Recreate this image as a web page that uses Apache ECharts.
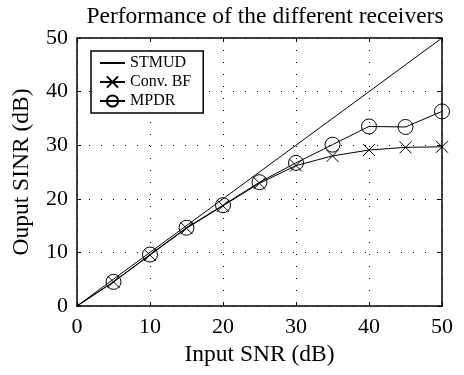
<!DOCTYPE html>
<html>
<head>
<meta charset="utf-8">
<script src="https://cdn.jsdelivr.net/npm/echarts@6/dist/echarts.min.js"></script>
<style>html,body{margin:0;padding:0;background:#fff}#c{width:464px;height:375px}</style>
</head>
<body>
<div id="c"></div>
<script>
var titleText = 'Performance of the different receivers';
var xName = 'Input SNR (dB)';
var yName = 'Ouput SINR (dB)';
var snr = [0, 5, 10, 15, 20, 25, 30, 35, 40, 45, 50];
var stmud = [0, 50];
var stmudX = [0, 50];
var convBF = [0, 4.5, 9.5, 14.5, 18.7, 22.9, 26.2, 28.0, 29.1, 29.6, 29.7];
var mpdr = [0, 4.5, 9.6, 14.6, 18.8, 23.1, 26.7, 30.1, 33.5, 33.4, 36.3];
var xTicks = [0, 10, 20, 30, 40, 50];
var yTicks = [0, 10, 20, 30, 40, 50];

var FONT = '"Liberation Serif", "DejaVu Serif", serif';
function pts(xs, ys, hideFirst) {
  return xs.map(function (x, i) {
    var d = { value: [x, ys[i]] };
    if (hideFirst && i === 0) d.symbol = 'none';
    return d;
  });
}
var chart = echarts.init(document.getElementById('c'), null, { renderer: 'canvas' });
var axisBase = {
  type: 'value', min: 0, max: 50, interval: 10,
  axisLine: { show: true, onZero: false, lineStyle: { color: '#000', width: 1.5 } },
  axisTick: { show: true, inside: true, length: 4, lineStyle: { color: '#000' } },
  splitLine: { show: false }
};
chart.setOption({
  animation: false,
  backgroundColor: '#fff',
  title: {
    text: titleText, left: 260, textAlign: 'center', top: 0,
    textStyle: { fontFamily: FONT, fontSize: 23.5, fontWeight: 'normal', color: '#000' }
  },
  legend: {
    orient: 'vertical', left: 91, top: 51,
    backgroundColor: '#fff', borderColor: '#000', borderWidth: 1.5,
    padding: [4, 12, 4, 8], itemGap: 3, itemWidth: 25, itemHeight: 14,
    textStyle: { fontFamily: FONT, fontSize: 16, color: '#000', lineHeight: 14 },
    data: [
      { name: 'STMUD', itemStyle: { color: 'rgba(0,0,0,0)', borderColor: 'rgba(0,0,0,0)', borderWidth: 0 } },
      'Conv. BF', 'MPDR'
    ]
  },
  grid: { left: 77, right: 22, top: 38, bottom: 69, containLabel: false },
  xAxis: [
    Object.assign({}, axisBase, {
      position: 'bottom', name: xName, nameLocation: 'middle', nameGap: 37,
      nameTextStyle: { fontFamily: FONT, fontSize: 23.5, color: '#000' },
      axisLabel: { fontFamily: FONT, fontSize: 22, color: '#000', margin: 10,
        formatter: function (v) { return xTicks.indexOf(v) >= 0 ? String(v) : ''; } },
      splitLine: { show: true, lineStyle: { color: '#000', width: 1, type: [1, 11] } }
    }),
    Object.assign({}, axisBase, { position: 'top', axisLabel: { show: false } })
  ],
  yAxis: [
    Object.assign({}, axisBase, {
      position: 'left', name: yName, nameLocation: 'middle', nameGap: 43,
      nameTextStyle: { fontFamily: FONT, fontSize: 23.5, color: '#000' },
      axisLabel: { fontFamily: FONT, fontSize: 22, color: '#000', margin: 9,
        formatter: function (v) { return yTicks.indexOf(v) >= 0 ? String(v) : ''; } },
      splitLine: { show: true, lineStyle: { color: '#000', width: 1, type: [1, 11] } }
    }),
    Object.assign({}, axisBase, { position: 'right', axisLabel: { show: false } })
  ],
  series: [
    {
      name: 'STMUD', type: 'line', data: pts(stmudX, stmud, false),
      symbol: 'none', lineStyle: { color: '#000', width: 1 }, itemStyle: { color: '#000' }
    },
    {
      name: 'Conv. BF', type: 'line', data: pts(snr, convBF, true),
      symbol: 'path://M0,0L10,10M10,0L0,10', symbolSize: 12,
      lineStyle: { color: '#000', width: 1 },
      itemStyle: { color: 'rgba(0,0,0,0)', borderColor: '#000', borderWidth: 1 }
    },
    {
      name: 'MPDR', type: 'line', data: pts(snr, mpdr, true),
      symbol: 'circle', symbolSize: 15,
      lineStyle: { color: '#000', width: 1 },
      itemStyle: { color: 'rgba(0,0,0,0)', borderColor: '#000', borderWidth: 1 }
    }
  ]
});
</script>
</body>
</html>
